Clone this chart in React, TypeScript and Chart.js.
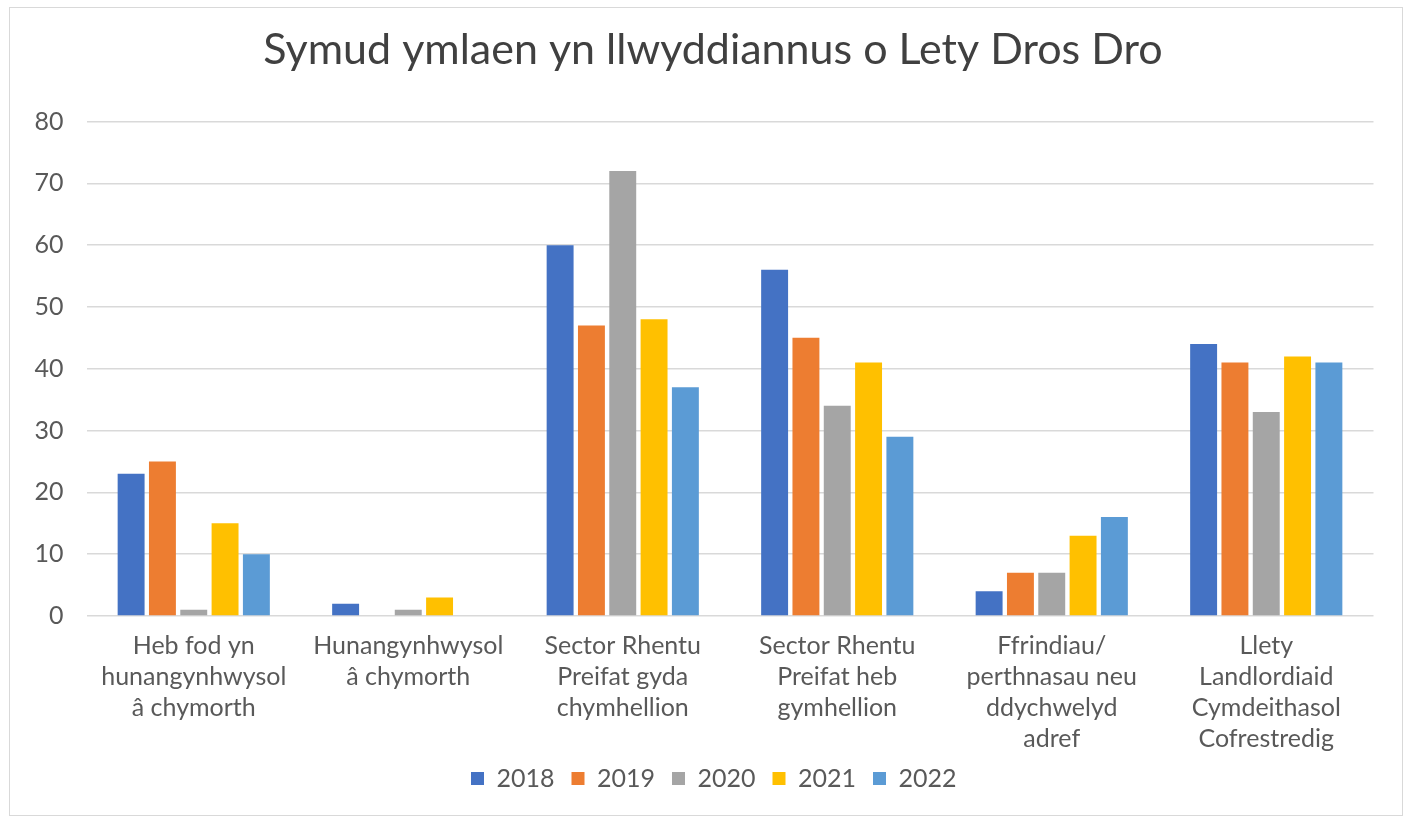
import React, { useEffect, useRef } from "react";
import { Chart, registerables } from "chart.js";

Chart.register(...registerables);

const chartTitle = "Symud ymlaen yn llwyddiannus o Lety Dros Dro";

const categories: string[][] = [
  ["Heb fod yn", "hunangynhwysol", "â chymorth"],
  ["Hunangynhwysol", "â chymorth"],
  ["Sector Rhentu", "Preifat gyda", "chymhellion"],
  ["Sector Rhentu", "Preifat heb", "gymhellion"],
  ["Ffrindiau/", "perthnasau neu", "ddychwelyd", "adref"],
  ["Llety", "Landlordiaid", "Cymdeithasol", "Cofrestredig"],
];

const years = ["2018", "2019", "2020", "2021", "2022"];
const values2018 = [23, 2, 60, 56, 4, 44];
const values2019 = [25, 0, 47, 45, 7, 41];
const values2020 = [1, 1, 72, 34, 7, 33];
const values2021 = [15, 3, 48, 41, 13, 42];
const values2022 = [10, 0, 37, 29, 16, 41];
const colors = ["#4472C4", "#ED7D31", "#A5A5A5", "#FFC000", "#5B9BD5"];

const yTicks = [0, 10, 20, 30, 40, 50, 60, 70, 80];

export default function App() {
  const ref = useRef<HTMLCanvasElement | null>(null);

  useEffect(() => {
    if (!ref.current) return;
    const series = [values2018, values2019, values2020, values2021, values2022];
    const fontFamily = "Lato, 'Open Sans', sans-serif";

    const titlePlugin = {
      id: "centeredTitle",
      afterDraw(chart: any) {
        const ctx = chart.ctx;
        ctx.save();
        ctx.font = `43px ${fontFamily}`;
        ctx.fillStyle = "#404040";
        ctx.textAlign = "center";
        ctx.textBaseline = "middle";
        ctx.fillText(chartTitle, chart.width / 2 + 7, 42);
        ctx.restore();
      },
    };

    const legendShift = {
      id: "legendShift",
      afterLayout(chart: any) {
        const lg = chart.legend;
        if (lg) {
          lg.top -= 12;
          lg.bottom -= 12;
          lg.left += 22;
          lg.right += 22;
        }
      },
    };

    const chart = new Chart(ref.current, {
      type: "bar",
      data: {
        labels: categories,
        datasets: years.map((y, i) => ({
          label: y,
          data: series[i],
          backgroundColor: colors[i],
          borderWidth: 0,
          categoryPercentage: 0.73,
          barPercentage: 0.86,
        })),
      },
      options: {
        responsive: false,
        animation: false,
        maintainAspectRatio: false,
        layout: { padding: { left: 0, right: 28.5, top: 113.5, bottom: 2 } },
        plugins: {
          title: { display: false },
          legend: {
            position: "bottom",
            labels: {
              color: "#595959",
              font: { family: fontFamily, size: 25 },
              boxWidth: 13,
              boxHeight: 13,
              padding: 17,
            },
          },
          tooltip: { enabled: false },
        },
        scales: {
          x: {
            grid: { display: false },
            border: { display: false },
            ticks: {
              color: "#595959",
              font: { family: fontFamily, size: 25, lineHeight: 1.25 },
              maxRotation: 0,
              autoSkip: false,
              padding: 6,
            },
          },
          y: {
            min: 0,
            max: 80,
            afterFit: (scale: any) => {
              scale.width = 76.5;
            },
            afterBuildTicks: (scale: any) => {
              scale.ticks = yTicks.map((v) => ({ value: v }));
            },
            grid: { color: "#D9D9D9", lineWidth: 1.5, drawTicks: false },
            border: { display: false },
            ticks: {
              color: "#595959",
              font: { family: fontFamily, size: 25 },
              padding: 23,
            },
          },
        },
      },
      plugins: [titlePlugin, legendShift],
    });
    return () => chart.destroy();
  }, []);

  return (
    <div
      style={{
        position: "absolute",
        left: 9,
        top: 7,
        width: 1392,
        height: 807,
        border: "1.5px solid #D9D9D9",
        background: "#fff",
      }}
    >
      <canvas
        ref={ref}
        width={1392}
        height={807}
        aria-label={chartTitle}
        style={{ display: "block" }}
      />
    </div>
  );
}
